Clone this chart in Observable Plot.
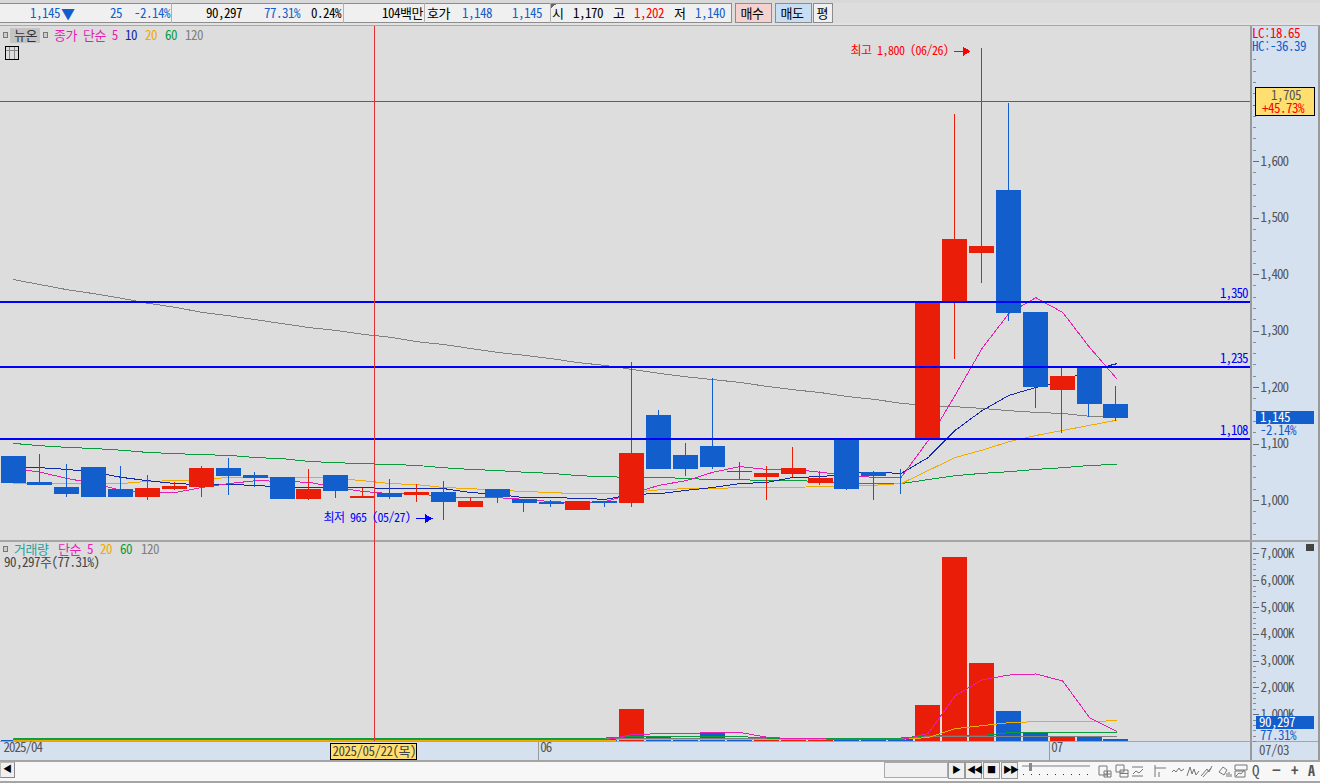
<!DOCTYPE html>
<html lang="ko">
<head>
<meta charset="utf-8">
<script src="https://cdn.jsdelivr.net/npm/d3@7"></script>
<script src="https://cdn.jsdelivr.net/npm/@observablehq/plot@0.6"></script>
<style>
  html,body{margin:0;padding:0;background:#dddddd;overflow:hidden}
  #stage{position:relative;width:1320px;height:783px;overflow:hidden;background:#dddddd;
    font:13px "Noto Sans Mono CJK KR","Noto Sans CJK KR",monospace;letter-spacing:-0.5px}
  #stage svg.main{position:absolute;left:0;background:transparent;shape-rendering:crispEdges}
  #stage svg.main text{font-family:"Noto Sans Mono CJK KR","Noto Sans CJK KR",monospace;font-size:13px;letter-spacing:-1px;font-weight:300}
  .b{position:absolute;box-sizing:border-box}
  .t{position:absolute;white-space:pre;line-height:14px;height:14px;font-weight:300}
  #stage svg.main g.ann text{font-size:12px;letter-spacing:-0.5px}
</style>
</head>
<body>
<div id="stage"></div>
<script>
// ---- chart data ----
const open_ = [1078,1032,1023,1058,1019,1005,1019,1023,1057,1044,1041,1002,1044,1004,1012,1009,1014,988,1019,1002,996,982,998,995,1150,1080,1096,1051,1041,1046,1030,1110,1050,1041,1110,1350,1437,1549,1333,1195,1235,1170];
const close_ = [1030,1027,1011,1005,1005,1021,1025,1057,1042,1039,1002,1019,1016,1007,1005,1014,996,998,1005,995,993,998,995,1083,1055,1055,1058,1049,1048,1057,1039,1019,1042,1040,1350,1462,1449,1331,1200,1219,1170,1145];
const high_ = [1078,1081,1064,1058,1060,1044,1032,1060,1074,1050,1041,1055,1044,1021,1037,1028,1034,1005,1019,1002,1000,998,998,1244,1159,1101,1216,1067,1060,1094,1051,1110,1051,1055,1350,1683,1800,1703,1333,1234,1237,1202];
const low_ = [1030,1027,1005,1005,1005,1000,1018,1005,1009,1023,1002,1000,1004,1004,1002,996,965,988,995,979,988,982,988,988,1055,1042,1055,1037,1000,1041,1027,1018,1000,1011,1110,1250,1384,1317,1163,1119,1147,1140];

const priceMA5 = [1057,1050,1039,1030,1018,1014,1014,1023,1030,1035,1034,1032,1023,1016,1012,1012,1007,1005,1005,1002,998,996,998,1012,1027,1035,1050,1060,1055,1055,1050,1044,1041,1041,1106,1186,1269,1331,1359,1333,1271,1216];
const priceMA10 = [1058,1058,1055,1050,1041,1035,1030,1028,1028,1027,1023,1023,1023,1023,1021,1021,1021,1014,1011,1005,1005,1004,1002,1011,1012,1018,1023,1030,1032,1041,1042,1048,1050,1048,1076,1124,1159,1186,1200,1212,1230,1242];
const priceMA20 = [1030,1030,1030,1030,1030,1034,1035,1037,1041,1041,1041,1041,1039,1035,1030,1028,1023,1021,1018,1016,1014,1012,1012,1014,1019,1021,1021,1023,1023,1023,1025,1025,1027,1030,1053,1076,1089,1104,1115,1124,1133,1142];
const priceMA60 = [1101,1097,1094,1092,1089,1085,1083,1081,1080,1076,1074,1069,1067,1065,1064,1062,1058,1055,1053,1050,1048,1044,1042,1041,1041,1039,1037,1037,1035,1035,1034,1030,1030,1030,1037,1044,1048,1051,1055,1058,1062,1064];
const priceMA120 = [1391,1382,1373,1366,1358,1349,1342,1333,1327,1320,1313,1306,1301,1294,1289,1281,1276,1269,1262,1257,1251,1244,1239,1232,1225,1219,1214,1209,1202,1196,1191,1184,1179,1172,1168,1166,1163,1159,1156,1154,1149,1147];

const volume = [40,40,40,40,40,45,45,45,40,40,40,40,40,40,40,40,40,40,40,40,40,40,60,1185,148,110,345,100,100,40,100,70,60,100,1333,6850,2926,1111,296,185,148,90];
const volMA5 = [60,60,60,60,60,60,60,60,60,60,60,60,60,60,60,60,60,60,60,60,60,60,60,260,290,290,340,340,160,100,100,65,65,65,300,1700,2300,2480,2520,2260,890,380];
const volMA20 = [30,30,30,30,30,30,30,30,30,30,30,30,30,30,30,30,30,30,40,40,40,40,50,65,70,70,70,70,70,70,70,70,70,80,150,480,590,700,740,740,740,780];
const volMA60 = [130,130,130,130,130,130,130,130,130,130,130,130,130,130,130,130,130,130,130,130,130,130,130,185,185,185,185,185,130,130,130,130,130,130,220,220,220,330,330,330,330,330];
const volMA120 = [110,110,110,110,110,110,110,110,110,110,110,110,110,110,110,110,110,110,110,110,110,110,110,110,110,110,110,110,110,110,110,110,110,120,190,190,190,190,190,190,190,190];

const levels = [1350,1235,1108];
const priceTicks = [1000,1100,1200,1300,1400,1500,1600];
const priceMinorTicks = d3.range(940,1800,20);
const priceMajorTicks = [1700];
const volumeTicks = [1000,2000,3000,4000,5000,6000,7000];
const volumeMinorTicks = d3.range(0,7400,200);
const monthLabels = ["2025/04","06","07"];
const monthStarts = [-0.45,19.5,38.5];
const crossDate = "2025/05/22(목)";
const crossIndex = 13.4;
const crossPrice = 1705;
const extremes = [
  {i:36,v:1795,label:"최고 1,800 (06/26)",color:"#ff0000"},
  {i:16,v:968,label:"최저 965 (05/27)",color:"#0000ff"}
];

const RED="#e91d08", BLUE="#125ecc", LEVEL="#0000ff";
const MAG="#e61eb4", NAVY="#1428aa", ORG="#f0aa00", GRN="#0a9b3c", GRY="#808080";
const idx = d3.range(open_.length);
const isUp = i => close_[i] > open_[i];
const candleColor = i => isUp(i) ? RED : BLUE;
const xDomain = [-0.487,45.983];
const xScale = {domain:xDomain, range:[0,1250]};
const half = 12.5/26.9;
const comma = d3.format(",");

function maLine(vals, color){
  return Plot.line(idx,{x:i=>i,y:i=>vals[i],stroke:color,strokeWidth:1});
}

const stage = document.getElementById("stage");
function box(x,y,w,h,css){const d=document.createElement("div");d.className="b";
  d.style.cssText=`left:${x}px;top:${y}px;width:${w}px;height:${h}px;${css||""}`;stage.appendChild(d);return d;}
function txt(x,y,s,color,css){const d=document.createElement("div");d.className="t";d.textContent=s;
  d.style.cssText=`left:${x}px;top:${y-7}px;color:${color||"#000"};${css||""}`;stage.appendChild(d);return d;}

// ---- backgrounds ----
box(1252,26,66,734,"background:#d6e1f0");
box(0,742,1252,18,"background:#d6e1f0");
box(1250,26,2,734,"background:#9a9a9a");
box(1318,26,2,735,"background:#9a9a9a");
box(0,540,1318,2,"background:#a5a5a5");
box(0,741,1318,1,"background:#a5a5a5");
box(0,760,1320,2,"background:#a5a5a5");

// ---- price panel ----
const pricePlot = Plot.plot({
  className:"main",
  width:1320,height:541,marginLeft:0,marginRight:68,marginTop:0,marginBottom:0,
  x:{...xScale,axis:null},
  y:{domain:[1000,1600],range:[500,161],axis:null},
  marks:[
    Plot.axisY({anchor:"right",ticks:priceMinorTicks,tickSize:3,tickFormat:()=>"",stroke:"#8a8a8a"}),
    Plot.axisY({anchor:"right",ticks:priceMajorTicks,tickSize:6,tickFormat:()=>"",stroke:"#6a6a6a"}),
    Plot.axisY({anchor:"right",ticks:priceTicks,tickSize:6,tickPadding:2,tickFormat:comma,stroke:"#6a6a6a",fill:"#555"}),
    maLine(priceMA120,GRY),maLine(priceMA60,GRN),maLine(priceMA20,ORG),maLine(priceMA10,NAVY),maLine(priceMA5,MAG),
    Plot.ruleX(idx,{x:i=>i,y1:i=>low_[i],y2:i=>high_[i],stroke:candleColor,strokeWidth:1,dx:-0.7}),
    Plot.rect(idx,{x1:i=>i-half,x2:i=>i+half,y1:i=>open_[i],y2:i=>close_[i],fill:candleColor}),
    Plot.ruleY(levels,{x1:xDomain[0],x2:xDomain[1],y:d=>d,stroke:LEVEL,strokeWidth:2,dy:-0.5}),
    Plot.text(levels,{y:d=>d,text:d=>comma(d),frameAnchor:"right",textAnchor:"end",dx:-5,dy:-9,fill:LEVEL}),
    Plot.ruleY([crossPrice],{x1:xDomain[0],x2:xDomain[1],y:d=>d,stroke:"#cf3030",strokeWidth:1,dy:-1}),
    Plot.ruleX([crossIndex],{x:d=>d,stroke:"#e23030",strokeWidth:1,insetTop:26}),
    Plot.text(extremes,{x:d=>d.i-1.24,y:d=>d.v,text:d=>d.label,fill:d=>d.color,textAnchor:"end",className:"ann"}),
    Plot.ruleY(extremes,{x1:d=>d.i-1.035,x2:d=>d.i-0.6,y:d=>d.v,stroke:d=>d.color,strokeWidth:1}),
    Plot.dot(extremes,{x:d=>d.i-0.6,y:d=>d.v,symbol:"triangle",rotate:90,r:3.2,fill:d=>d.color,stroke:"none"})
  ]
});
pricePlot.style.top="0px";
stage.appendChild(pricePlot);

// ---- volume panel ----
const volumePlot = Plot.plot({
  className:"main",
  width:1320,height:220,marginLeft:0,marginRight:68,marginTop:0,marginBottom:0,
  x:{...xScale,axis:null},
  y:{domain:[0,7000],range:[200,12.4],axis:null},
  marks:[
    Plot.axisY({anchor:"right",ticks:volumeMinorTicks,tickSize:3,tickFormat:()=>"",stroke:"#8a8a8a"}),
    Plot.axisY({anchor:"right",ticks:volumeTicks,tickSize:6,tickPadding:2,tickFormat:d=>comma(d)+"K",stroke:"#6a6a6a",fill:"#555"}),
    Plot.rect(idx,{x1:i=>i-half,x2:i=>i+half,y1:0,y2:i=>volume[i],fill:candleColor}),
    maLine(volMA120,GRY),maLine(volMA60,GRN),maLine(volMA20,ORG),maLine(volMA5,MAG),
    Plot.ruleX([crossIndex],{x:d=>d,stroke:"#e23030",strokeWidth:1,insetBottom:20}),
    Plot.ruleX(monthStarts.slice(1),{x:d=>d,stroke:"#9a9a9a",strokeWidth:1,insetTop:201}),
    Plot.text(monthLabels,{x:(d,i)=>monthStarts[i],text:d=>d,frameAnchor:"bottom",dy:-10,textAnchor:"start",dx:2,fill:"#555"})
  ]
});
volumePlot.style.top="541px";
stage.appendChild(volumePlot);

const xs = pricePlot.scale("x"), ys = pricePlot.scale("y");

// ---- top toolbar ----
box(0,0,1320,3,"background:#d8d8d8");
box(0,3,732,20,"background:#f0f0f0;border-top:1px solid #8c8c8c;border-bottom:1px solid #8c8c8c;border-right:1px solid #8c8c8c");
box(0,23,1320,3,"background:#e2e2e2;border-bottom:1px solid #a8a8a8");
[171,343,424,550].forEach(x=>box(x,3,1,20,"background:#b0b0b0"));
box(551,4,5,5,"background:linear-gradient(135deg,#666 50%,transparent 50%)");
const topLabels = [
 [30,"1,145","#125ecc"],[110,"25","#125ecc"],[134,"-2.14%","#125ecc"],[206,"90,297","#000"],[264,"77.31%","#125ecc"],[311,"0.24%","#000"],
 [382,"104백만","#000"],[427,"호가","#000"],[462,"1,148","#125ecc"],[512,"1,145","#125ecc"],[552,"시","#000"],[573,"1,170","#000"],
 [613,"고","#000"],[634,"1,202","#ff0000"],[674,"저","#000"],[695,"1,140","#125ecc"]
];
topLabels.forEach(([x,s,c])=>txt(x,13,s,c));
txt(61,13,"▼","#125ecc","font-size:14px");
[[735,37,"#f5d2cd","매수"],[775,37,"#c8def4","매도"],[813,20,"#f0f0f0","평"]].forEach(([x,w,bg,s])=>{
  box(x,3,w,20,`background:${bg};border:1px solid #8c8c8c`);
  txt(x+(w-(s.length*13))/2,13,s,"#000");
});

// ---- panel legends ----
box(10,28,30,15,"background:#c4c4c4");
[[3,32],[43,32],[3,546]].forEach(([x,y])=>box(x,y,5,6,"border:1px solid #777;background:#ccc"));
txt(14,35,"뉴온","#333");
txt(54,35,"종가 단순 5",MAG);txt(125,35,"10",NAVY);txt(145,35,"20",ORG);txt(165,35,"60",GRN);txt(185,35,"120",GRY);
box(5,46,14,14,"border:1px solid #000;background:#ddd;background-image:linear-gradient(#888 0 0),linear-gradient(#888 0 0),linear-gradient(#888 0 0);background-size:1px 100%,1px 100%,100% 1px;background-position:3px 0,8px 0,0 3px;background-repeat:no-repeat");
txt(14,549,"거래량","#2a9d9d");txt(58,549,"단순 5",MAG);txt(100,549,"20",ORG);txt(120,549,"60",GRN);txt(141,549,"120",GRY);
txt(4,562,"90,297주(77.31%)","#444");

// ---- right side tags ----
txt(1252,33,"LC:18.65","#ff0000");
txt(1252,46,"HC:-36.39","#125ecc");
const yTag = ys.apply(crossPrice);
box(1255,yTag-14.5,60,28.5,"background:#ffdf70;border:1px solid #000");
txt(1271,yTag-7,"1,705","#555");
txt(1262,yTag+6,"+45.73%","#ff0000");
box(1256,411,58,13,"background:#125ecc");
txt(1260,417,"1,145","#fff");
txt(1260,430,"-2.14%","#125ecc");
box(1256,716,58,13,"background:#125ecc");
txt(1259,722,"90,297","#fff");
txt(1260,735,"77.31%","#125ecc");
box(1306,544,8,7,"background:#444");

// ---- date strip ----
const xc = xs.apply(crossIndex);
box(xc-44,743,87,17,"background:#ffdf70;border:1px solid #000");
txt(xc-41,751,crossDate,"#444");
txt(1259,750,"07/03","#555");

// ---- bottom toolbar ----
box(0,762,1320,19,"background:#f7f7f7");
box(0,781,1320,2,"background:#a5a5a5");
box(0,762,15,16,"background:#f0f0f0;border:1px solid #bbb;border-bottom:1px solid #888;border-right:1px solid #888");
txt(3,769,"◀","#000","font-size:9px");
box(884,762,64,16,"background:#f0f0f0;border:1px solid #aaa");
[[948,"▶"],[965,"◀◀"],[983,"■"],[1001,"▶▶"]].forEach(([x,s])=>{
  box(x,762,17,17,"background:#f0f0f0;border:1px solid #999");
  txt(x+(s.length>1?2:4),770,s,"#000","font-size:9px;letter-spacing:-2px");
});
box(1022,765,68,2,"background:#bbb");
box(1029,763,3,8,"background:#888");
box(1023,774,67,1,"background:repeating-linear-gradient(90deg,#333 0 1px,transparent 1px 8px)");
// toolbar icon glyphs
const icons = [
 "M1 2h8v9h-8zM6 7h7v6h-7zM6 10h7M9.5 7v6",
 "M1 1h8v7h-8zM5 6h8v7h-8zM5 9.5h8",
 "M1 3h11M1 12h11M2 10l3-3 3 2 4-4",
 "M2 1v12M2 4h11M6 8v5",
 "M1 8l2-2 2 2 3-4 2 3 3-2",
 "M1 12l3-9 2 7 2-5 2 6 3-4",
 "M1 12l6-7 2 3 3-6M3 13l8-9",
 "M1 8l4-5 4 3-3 5zM9 9v4M11 8v5M13 10v3",
 "M1 1h12v5h-12zM1 7h10v6h-10zM2 12l3-3 2 1 3-4"
];
const iconX = [1098,1115,1131,1153,1171,1186,1200,1218,1234];
icons.forEach((p,k)=>{
  const d=box(iconX[k],764,15,15);
  d.innerHTML=`<svg width="15" height="15" style="display:block"><path d="${p}" fill="none" stroke="#777" stroke-width="1"/></svg>`;
});
txt(1252,770,"Q","#555","font-size:15px");
txt(1272,770,"−","#555","font-weight:700;font-size:15px");
txt(1291,770,"+","#555","font-weight:700;font-size:15px");
txt(1308,770,"A","#555","font-weight:700;font-size:14px");
</script>
</body>
</html>
